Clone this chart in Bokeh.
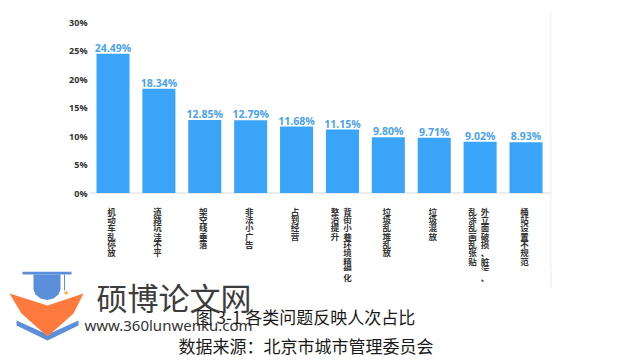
from bokeh.plotting import figure
from bokeh.layouts import column
from bokeh.models import Range1d, FixedTicker, CustomJSTickFormatter, Span, ColumnDataSource
from bokeh.core.properties import value
from bokeh.embed import file_html
from bokeh.resources import INLINE

# ---- data ----
categories = ["机动车乱停放", "道路坑洼不平", "架空线垂落", "非法小广告", "占到经营",
              "背街小巷环境精细化整治提升", "垃圾乱堆乱放", "垃圾混放",
              "外立面破损、脏污、乱涂乱画乱张贴", "桶站设置不规范"]
# vertical label columns (right column first, as written top-to-bottom, right-to-left)
label_columns = [["机动车乱停放"], ["道路坑洼不平"], ["架空线垂落"], ["非法小广告"], ["占到经营"],
                 ["背街小巷环境精细化", "整治提升"], ["垃圾乱堆乱放"], ["垃圾混放"],
                 ["外立面破损、脏污、", "乱涂乱画乱张贴"], ["桶站设置不规范"]]
shares = [24.49, 18.34, 12.85, 12.79, 11.68, 11.15, 9.80, 9.71, 9.02, 8.93]
y_ticks = [0, 5, 10, 15, 20, 25, 30]
caption = "图 3-1 各类问题反映人次占比"
source_note = "数据来源：北京市城市管理委员会"
wm_title = "硕博论文网"
wm_url = "www.360lunwenku.com"

W, H = 639, 361
SPLIT = 271          # page y where the upper (chart) figure ends
BAR_COLOR = "#3aa5f8"
LABEL_COLOR = "#4aa2ec"
TEXT_DARK = "#333333"
FL, FR = 89, 551     # chart frame left / right, page pixels

# layout helpers (page pixel -> data units of the chart)
X0, PITCH = 112.5, 45.89
Y0, PPU = 192.5, 5.684
def dx(px):
    return (px - X0) / PITCH
def dy(py):
    return (Y0 - py) / PPU

# ---------- upper figure: chart ----------
p = figure(width=W, height=SPLIT, output_backend="svg", toolbar_location=None,
           x_range=Range1d(dx(FL), dx(FR)), y_range=Range1d(dy(SPLIT), dy(0)),
           min_border_left=FL, min_border_right=W - FR, min_border_top=0, min_border_bottom=0)
p.frame_align = False
p.xaxis.visible = False
p.xgrid.visible = False
p.ygrid.visible = False
p.outline_line_color = None
p.background_fill_color = "white"
p.border_fill_color = "white"

yax = p.yaxis[0]
yax.ticker = FixedTicker(ticks=y_ticks)
yax.formatter = CustomJSTickFormatter(code="return tick + '%';")
yax.axis_line_color = None
yax.major_tick_line_color = None
yax.minor_tick_line_color = None
yax.major_tick_out = 0
yax.major_tick_in = 0
yax.minor_tick_out = 0
yax.major_label_standoff = 2
yax.major_label_text_font = "Open Sans"
yax.major_label_text_font_style = "bold"
yax.major_label_text_font_size = "9px"
yax.major_label_text_color = TEXT_DARK

p.add_layout(Span(location=0, dimension="width", line_color="#ececec", line_width=2, level="underlay"))

idx = list(range(len(categories)))
src = ColumnDataSource(dict(x=idx, top=shares, lab=[f"{v:.2f}%" for v in shares]))
p.vbar(x="x", top="top", bottom=0, width=0.72, source=src, fill_color=BAR_COLOR, line_color=None)
p.text(x="x", y="top", text="lab", source=src, text_align="center", text_baseline="alphabetic",
       y_offset=-6, text_font=value("Open Sans"), text_font_style="bold", text_font_size="10.5px",
       text_color=LABEL_COLOR)

# vertical category labels, one character at a time
CH_TOP = 204.0   # page y of first character top
CH_PITCH = 8.35
up = dict(x=[], y=[], t=[], xo=[])
low = dict(x=[], y=[], t=[], xo=[])
for i, cols in enumerate(label_columns):
    offs = [-1.5] if len(cols) == 1 else [5, -7.5]
    for c, o in zip(cols, offs):
        for k, ch in enumerate(c):
            top_py = CH_TOP + k * CH_PITCH
            if top_py <= SPLIT - 8.5:
                up["x"].append(i); up["y"].append(dy(top_py)); up["t"].append(ch); up["xo"].append(o)
            else:
                low["x"].append(i); low["y"].append(top_py); low["t"].append(ch); low["xo"].append(o)
label_style = dict(text_align="center", text_baseline="top", text_font=value("Noto Sans CJK SC"),
                   text_font_style="bold", text_font_size="8.5px", text_color=TEXT_DARK)
p.text(x="x", y="y", text="t", x_offset="xo", source=ColumnDataSource(up), **label_style)

# right light border line (upper part)
p.segment(x0=dx(550.5), y0=dy(11), x1=dx(550.5), y1=dy(SPLIT), line_color="#dde8f4", line_width=1)

# ---------- lower figure: rest of the labels, watermark and captions (y in page pixels) ----------
q = figure(width=W, height=H - SPLIT, output_backend="svg", toolbar_location=None,
           x_range=Range1d(dx(0), dx(W)), y_range=Range1d(H, SPLIT),
           min_border_left=0, min_border_right=0, min_border_top=0, min_border_bottom=0)
q.frame_align = False
q.axis.visible = False
q.grid.visible = False
q.outline_line_color = None
q.background_fill_color = "white"
q.border_fill_color = "white"

q.text(x="x", y="y", text="t", x_offset="xo", source=ColumnDataSource(low), **label_style)
q.segment(x0=dx(550.5), y0=SPLIT, x1=dx(550.5), y1=287, line_color="#dde8f4", line_width=1)

# logo (page pixel outlines)
BLUE, ORANGE = "#5b8fd9", "#ff7a3c"
logo_parts = [
    ([16, 47, 78, 78, 47, 16], [320, 334, 320, 325, 340, 325], BLUE),
    ([9, 47, 83, 73, 47, 21], [293, 305, 293, 313, 336, 313], ORANGE),
    ([22, 71, 71, 22], [271, 271, 274, 274], BLUE),
    ([33, 60, 60, 58, 53, 46.5, 40, 35, 33], [274, 274, 289, 294, 298, 299.5, 298, 294, 289], BLUE),
    ([63.5, 64.5, 64.5, 63.5], [274, 274, 290, 290], BLUE),
]
q.patches(xs=[[dx(a) for a in xs] for xs, ys, c in logo_parts], ys=[ys for xs, ys, c in logo_parts],
          fill_color=[c for xs, ys, c in logo_parts], line_color=None)
q.text(x=[dx(65)], y=[292], text=["★"], text_align="center", text_baseline="middle",
       text_font_size="7px", text_color="#f5a623")

q.text(x=[dx(173.5)], y=[296], text=[wm_title], text_align="center", text_baseline="middle",
       text_font=value("Noto Sans CJK SC"), text_font_size="31px", text_color="#3d3d3d")
q.text(x=[dx(168)], y=[324], text=[wm_url], text_align="center", text_baseline="middle",
       text_font=value("Noto Sans"), text_font_size="15px", text_color=TEXT_DARK)

q.text(x=[dx(305)], y=[316], text=[caption], text_align="center", text_baseline="middle",
       text_font=value("Noto Sans CJK SC"), text_font_size="17px", text_color="#1a1a1a")
q.text(x=[dx(305.5)], y=[345], text=[source_note], text_align="center", text_baseline="middle",
       text_font=value("Noto Sans CJK SC"), text_font_size="17px", text_color="#1a1a1a")

layout = column(p, q, spacing=0)
open("out.html", "w").write(file_html(layout, INLINE))
